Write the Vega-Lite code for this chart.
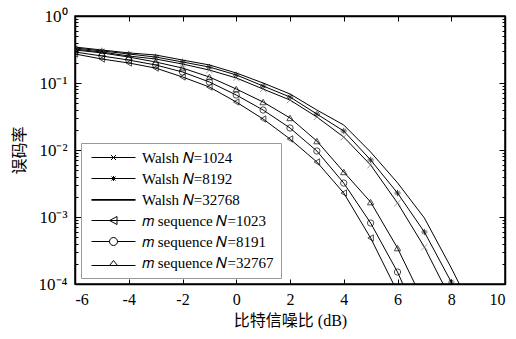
{
  "$schema": "https://vega.github.io/schema/vega-lite/v6.json",
  "width": 430,
  "height": 268,
  "autosize": {"type": "none"},
  "padding": {"left": 75, "top": 16, "right": 11, "bottom": 55},
  "background": "white",
  "config": {
    "view": {"stroke": "black", "strokeWidth": 1.5},
    "axis": {
      "labelFont": "Liberation Serif",
      "labelFontSize": 16,
      "labelColor": "black",
      "titleFont": "Liberation Serif, Noto Sans CJK SC",
      "titleFontSize": 16,
      "titleFontWeight": "normal",
      "titleColor": "black",
      "domainColor": "black",
      "domainWidth": 1.5,
      "tickColor": "black",
      "tickWidth": 1,
      "grid": false,
      "labelOverlap": false
    }
  },
  "datasets": {
    "curves": [
      {"series": "Walsh N=1024", "snr": -6, "ber": 0.321},
      {"series": "Walsh N=1024", "snr": -5, "ber": 0.290},
      {"series": "Walsh N=1024", "snr": -4, "ber": 0.253},
      {"series": "Walsh N=1024", "snr": -3, "ber": 0.228},
      {"series": "Walsh N=1024", "snr": -2, "ber": 0.192},
      {"series": "Walsh N=1024", "snr": -1, "ber": 0.156},
      {"series": "Walsh N=1024", "snr": 0, "ber": 0.119},
      {"series": "Walsh N=1024", "snr": 1, "ber": 0.0813},
      {"series": "Walsh N=1024", "snr": 2, "ber": 0.0557},
      {"series": "Walsh N=1024", "snr": 3, "ber": 0.0311},
      {"series": "Walsh N=1024", "snr": 4, "ber": 0.0156},
      {"series": "Walsh N=1024", "snr": 5, "ber": 0.00597},
      {"series": "Walsh N=1024", "snr": 6, "ber": 0.00162},
      {"series": "Walsh N=1024", "snr": 7, "ber": 0.000356},
      {"series": "Walsh N=1024", "snr": 8, "ber": 0.0000575},
      {"series": "Walsh N=8192", "snr": -6, "ber": 0.333},
      {"series": "Walsh N=8192", "snr": -5, "ber": 0.301},
      {"series": "Walsh N=8192", "snr": -4, "ber": 0.271},
      {"series": "Walsh N=8192", "snr": -3, "ber": 0.244},
      {"series": "Walsh N=8192", "snr": -2, "ber": 0.206},
      {"series": "Walsh N=8192", "snr": -1, "ber": 0.173},
      {"series": "Walsh N=8192", "snr": 0, "ber": 0.132},
      {"series": "Walsh N=8192", "snr": 1, "ber": 0.0902},
      {"series": "Walsh N=8192", "snr": 2, "ber": 0.0618},
      {"series": "Walsh N=8192", "snr": 3, "ber": 0.0344},
      {"series": "Walsh N=8192", "snr": 4, "ber": 0.0192},
      {"series": "Walsh N=8192", "snr": 5, "ber": 0.0071},
      {"series": "Walsh N=8192", "snr": 6, "ber": 0.00228},
      {"series": "Walsh N=8192", "snr": 7, "ber": 0.000597},
      {"series": "Walsh N=8192", "snr": 8, "ber": 0.000107},
      {"series": "Walsh N=8192", "snr": 9, "ber": 0.0000158},
      {"series": "Walsh N=32768", "snr": -6, "ber": 0.344},
      {"series": "Walsh N=32768", "snr": -5, "ber": 0.311},
      {"series": "Walsh N=32768", "snr": -4, "ber": 0.281},
      {"series": "Walsh N=32768", "snr": -3, "ber": 0.262},
      {"series": "Walsh N=32768", "snr": -2, "ber": 0.220},
      {"series": "Walsh N=32768", "snr": -1, "ber": 0.186},
      {"series": "Walsh N=32768", "snr": 0, "ber": 0.141},
      {"series": "Walsh N=32768", "snr": 1, "ber": 0.100},
      {"series": "Walsh N=32768", "snr": 2, "ber": 0.0686},
      {"series": "Walsh N=32768", "snr": 3, "ber": 0.0395},
      {"series": "Walsh N=32768", "snr": 4, "ber": 0.0236},
      {"series": "Walsh N=32768", "snr": 5, "ber": 0.00933},
      {"series": "Walsh N=32768", "snr": 6, "ber": 0.00324},
      {"series": "Walsh N=32768", "snr": 7, "ber": 0.000966},
      {"series": "Walsh N=32768", "snr": 8, "ber": 0.000174},
      {"series": "Walsh N=32768", "snr": 9, "ber": 0.0000275},
      {"series": "m sequence N=1023", "snr": -6, "ber": 0.271},
      {"series": "m sequence N=1023", "snr": -5, "ber": 0.228},
      {"series": "m sequence N=1023", "snr": -4, "ber": 0.199},
      {"series": "m sequence N=1023", "snr": -3, "ber": 0.167},
      {"series": "m sequence N=1023", "snr": -2, "ber": 0.123},
      {"series": "m sequence N=1023", "snr": -1, "ber": 0.0871},
      {"series": "m sequence N=1023", "snr": 0, "ber": 0.052},
      {"series": "m sequence N=1023", "snr": 1, "ber": 0.029},
      {"series": "m sequence N=1023", "snr": 2, "ber": 0.0146},
      {"series": "m sequence N=1023", "snr": 3, "ber": 0.00662},
      {"series": "m sequence N=1023", "snr": 4, "ber": 0.00228},
      {"series": "m sequence N=1023", "snr": 5, "ber": 0.000486},
      {"series": "m sequence N=1023", "snr": 6, "ber": 0.000076},
      {"series": "m sequence N=8191", "snr": -6, "ber": 0.290},
      {"series": "m sequence N=8191", "snr": -5, "ber": 0.253},
      {"series": "m sequence N=8191", "snr": -4, "ber": 0.220},
      {"series": "m sequence N=8191", "snr": -3, "ber": 0.186},
      {"series": "m sequence N=8191", "snr": -2, "ber": 0.146},
      {"series": "m sequence N=8191", "snr": -1, "ber": 0.1035},
      {"series": "m sequence N=8191", "snr": 0, "ber": 0.0662},
      {"series": "m sequence N=8191", "snr": 1, "ber": 0.0395},
      {"series": "m sequence N=8191", "snr": 2, "ber": 0.0213},
      {"series": "m sequence N=8191", "snr": 3, "ber": 0.00966},
      {"series": "m sequence N=8191", "snr": 4, "ber": 0.00321},
      {"series": "m sequence N=8191", "snr": 5, "ber": 0.000813},
      {"series": "m sequence N=8191", "snr": 6, "ber": 0.000151},
      {"series": "m sequence N=8191", "snr": 7, "ber": 0.000019},
      {"series": "m sequence N=32767", "snr": -6, "ber": 0.311},
      {"series": "m sequence N=32767", "snr": -5, "ber": 0.281},
      {"series": "m sequence N=32767", "snr": -4, "ber": 0.244},
      {"series": "m sequence N=32767", "snr": -3, "ber": 0.206},
      {"series": "m sequence N=32767", "snr": -2, "ber": 0.167},
      {"series": "m sequence N=32767", "snr": -1, "ber": 0.123},
      {"series": "m sequence N=32767", "snr": 0, "ber": 0.0813},
      {"series": "m sequence N=32767", "snr": 1, "ber": 0.052},
      {"series": "m sequence N=32767", "snr": 2, "ber": 0.0301},
      {"series": "m sequence N=32767", "snr": 3, "ber": 0.0136},
      {"series": "m sequence N=32767", "snr": 4, "ber": 0.0047},
      {"series": "m sequence N=32767", "snr": 5, "ber": 0.00167},
      {"series": "m sequence N=32767", "snr": 6, "ber": 0.000344},
      {"series": "m sequence N=32767", "snr": 7, "ber": 0.0000513}
    ]
  },
  "data": {"name": "curves"},
  "layer": [
    {
      "mark": {"type": "line", "clip": true, "color": "black", "strokeWidth": 1},
      "encoding": {
        "x": {
          "field": "snr", "type": "quantitative",
          "scale": {"domain": [-6, 10], "nice": false},
          "axis": {
            "orient": "bottom", "title": "比特信噪比 (dB)",
            "values": [-6, -4, -2, 0, 2, 4, 6, 8, 10],
            "labelExpr": "datum.value + ''",
            "tickSize": -5, "labelPadding": 12, "titlePadding": 5
          }
        },
        "y": {
          "field": "ber", "type": "quantitative",
          "scale": {"type": "log", "domain": [0.0001, 1], "nice": false},
          "axis": {
            "orient": "left", "title": "误码率",
            "titleFont": "Noto Sans CJK SC",
            "values": [0.0001, 0.0002, 0.0003, 0.0004, 0.0005, 0.0006, 0.0007, 0.0008, 0.0009, 0.001, 0.002, 0.003, 0.004, 0.005, 0.006, 0.007, 0.008, 0.009, 0.01, 0.02, 0.03, 0.04, 0.05, 0.06, 0.07, 0.08, 0.09, 0.1, 0.2, 0.3, 0.4, 0.5, 0.6, 0.7, 0.8, 0.9, 1],
            "labelExpr": "abs(log(datum.value)/LN10 - round(log(datum.value)/LN10)) > 0.001 ? '' : ('10' + (round(log(datum.value)/LN10) == 0 ? '⁰' : round(log(datum.value)/LN10) == -1 ? '⁻¹' : round(log(datum.value)/LN10) == -2 ? '⁻²' : round(log(datum.value)/LN10) == -3 ? '⁻³' : '⁻⁴'))",
            "labelFontSize": 17,
            "tickSize": {"condition": {"test": "abs(log(datum.value)/LN10 - round(log(datum.value)/LN10)) < 0.001", "value": -6}, "value": -3},
            "labelPadding": 14, "titlePadding": 11
          }
        },
        "detail": {"field": "series"}
      }
    },
    {
      "transform": [{"filter": "datum.series != 'Walsh N=32768'"}],
      "mark": {"type": "point", "clip": true, "filled": false, "strokeWidth": 1, "size": 40},
      "encoding": {
        "x": {
          "field": "snr", "type": "quantitative",
          "axis": {"orient": "top", "title": null, "labels": false, "values": [-6, -4, -2, 0, 2, 4, 6, 8, 10], "tickSize": -5}
        },
        "y": {
          "field": "ber", "type": "quantitative",
          "axis": {
            "orient": "right", "title": null, "labels": false,
            "values": [0.0001, 0.0002, 0.0003, 0.0004, 0.0005, 0.0006, 0.0007, 0.0008, 0.0009, 0.001, 0.002, 0.003, 0.004, 0.005, 0.006, 0.007, 0.008, 0.009, 0.01, 0.02, 0.03, 0.04, 0.05, 0.06, 0.07, 0.08, 0.09, 0.1, 0.2, 0.3, 0.4, 0.5, 0.6, 0.7, 0.8, 0.9, 1],
            "tickSize": {"condition": {"test": "abs(log(datum.value)/LN10 - round(log(datum.value)/LN10)) < 0.001", "value": -6}, "value": -3}
          }
        },
        "shape": {
          "field": "series", "type": "nominal", "legend": null,
          "scale": {
            "domain": ["Walsh N=1024", "Walsh N=8192", "m sequence N=1023", "m sequence N=8191", "m sequence N=32767"],
            "range": ["M-1,-1L1,1M-1,1L1,-1", "M-0.7,-0.7L0.7,0.7M-0.7,0.7L0.7,-0.7M-1,0L1,0M0,-1L0,1", "triangle-left", "circle", "triangle-up"]
          }
        },
        "color": {
          "field": "series", "type": "nominal", "legend": null,
          "scale": {
            "domain": ["Walsh N=1024", "Walsh N=8192", "m sequence N=1023", "m sequence N=8191", "m sequence N=32767"],
            "range": ["#777777", "black", "black", "black", "black"]
          }
        }
      }
    },
    {
      "mark": {"type": "point", "opacity": 0, "filled": false, "color": "black"},
      "encoding": {
        "x": {"field": "snr", "type": "quantitative", "axis": null},
        "y": {"field": "ber", "type": "quantitative", "axis": null},
        "shape": {
          "field": "series", "type": "nominal",
          "scale": {
            "domain": ["Walsh N=1024", "Walsh N=8192", "Walsh N=32768", "m sequence N=1023", "m sequence N=8191", "m sequence N=32767"],
            "range": [
              "M-4.4,0L4.4,0M-0.5,-0.5L0.5,0.5M-0.5,0.5L0.5,-0.5",
              "M-4.4,0L4.4,0M-0.4,-0.4L0.4,0.4M-0.4,0.4L0.4,-0.4M0,-0.5L0,0.5",
              "M-4.4,0L4.4,0M-4.4,0.15L4.4,0.15",
              "M-4.4,0L4.4,0M-0.8,0L0.7,-0.8L0.7,0.8Z",
              "M-4.4,0L-0.8,0M0.8,0L4.4,0M0.8,0A0.8,0.8 0 1,1 -0.8,0A0.8,0.8 0 1,1 0.8,0",
              "M-4.4,0.6L4.4,0.6M0,-0.4L0.8,0.6L-0.8,0.6Z"
            ]
          },
          "legend": {
            "title": null,
            "orient": "bottom-left",
            "offset": 6,
            "labelExpr": "replace(replace(datum.label, 'N=', '𝑁='), 'm sequence', '𝑚 sequence')",
            "labelFont": "Liberation Serif",
            "labelFontSize": 15,
            "labelColor": "black",
            "labelOffset": 21,
            "symbolSize": 100,
            "symbolOffset": 18,
            "symbolOpacity": 1,
            "symbolStrokeColor": "black",
            "symbolFillColor": "white",
            "symbolStrokeWidth": 1,
            "rowPadding": 5,
            "padding": 7,
            "strokeColor": "#999999",
            "fillColor": "white"
          }
        }
      }
    }
  ],
  "resolve": {
    "scale": {"shape": "independent"},
    "axis": {"x": "independent", "y": "independent"}
  }
}
